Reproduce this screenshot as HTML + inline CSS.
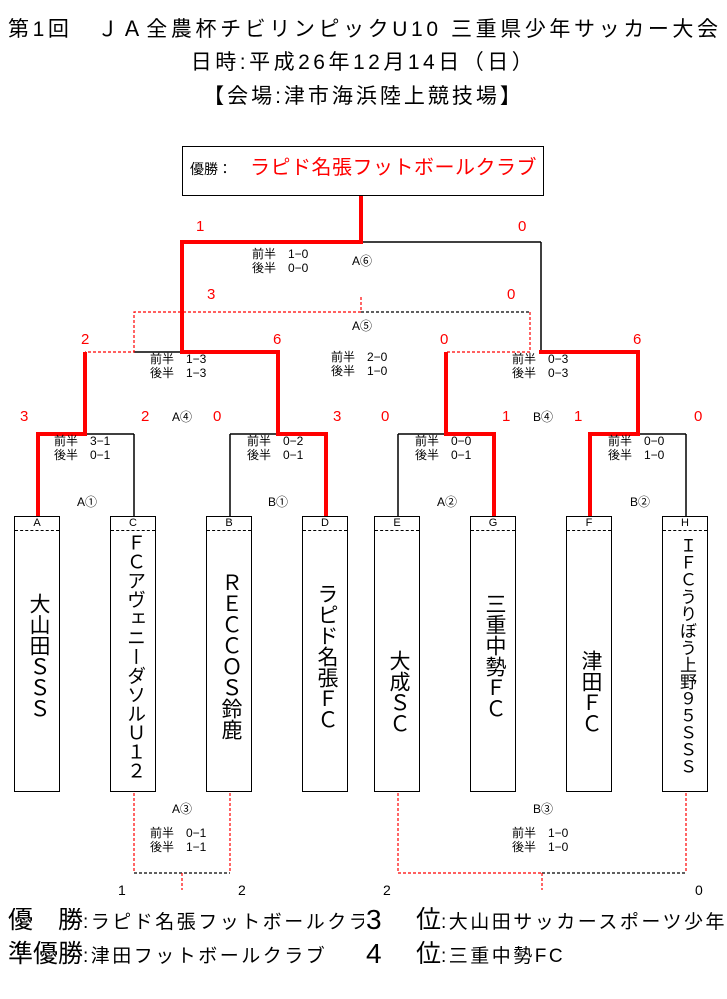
<!DOCTYPE html>
<html><head><meta charset="utf-8"><style>
body{margin:0;width:727px;height:999px;background:#fff;position:relative;overflow:hidden;font-family:"Liberation Sans","Noto Sans CJK JP",sans-serif;color:#000}
.t{position:absolute;white-space:nowrap;line-height:1}
.r{color:#f00}
.s{font-size:12px;line-height:14px}
.box{position:absolute;top:516px;width:46px;height:276px;border:1.5px solid #000;box-sizing:border-box}
.box .h{height:13px;border-bottom:1px dashed #000;font-size:11px;text-align:center;line-height:13px}
.box .v{writing-mode:vertical-rl;font-size:21px;margin:0 auto;line-height:46px;height:250px;display:flex;align-items:center;justify-content:center;width:46px;letter-spacing:0}
.sm{font-size:19px;letter-spacing:2.5px}
</style></head><body>
<div class="t" style="left:8px;top:19px;font-size:21px;letter-spacing:3.6px">第1回　ＪＡ全農杯チビリンピックU10 三重県少年サッカー大会</div>
<div class="t" style="left:0;width:727px;text-align:center;top:52px;font-size:21px;letter-spacing:3.5px">日時:平成26年12月14日（日）</div>
<div class="t" style="left:0;width:727px;text-align:center;top:86px;font-size:21px;letter-spacing:3px">【会場:津市海浜陸上競技場】</div>

<div style="position:absolute;left:182px;top:146px;width:362px;height:50px;border:1.5px solid #000;box-sizing:border-box"></div>
<div class="t" style="left:190px;top:162px;font-size:14px">優勝：</div>
<div class="t r" style="left:250px;top:158px;font-size:20px;letter-spacing:0.5px">ラピド名張フットボールクラブ</div>

<svg width="727" height="999" style="position:absolute;left:0;top:0">
<g fill="none" stroke-width="1.5">
<line x1="541" y1="242" x2="361" y2="242" stroke="#000"/>
<line x1="541" y1="242" x2="541" y2="352" stroke="#000"/>
<line x1="134" y1="352" x2="182" y2="352" stroke="#000"/>
<line x1="85" y1="434" x2="134" y2="434" stroke="#000"/>
<line x1="134" y1="434" x2="134" y2="516" stroke="#000"/>
<line x1="230" y1="434" x2="278" y2="434" stroke="#000"/>
<line x1="230" y1="434" x2="230" y2="516" stroke="#000"/>
<line x1="398" y1="434" x2="446" y2="434" stroke="#000"/>
<line x1="398" y1="434" x2="398" y2="516" stroke="#000"/>
<line x1="638" y1="434" x2="686" y2="434" stroke="#000"/>
<line x1="686" y1="434" x2="686" y2="516" stroke="#000"/>
</g>
<g fill="none" stroke="#f00" stroke-width="4">
<polyline points="361,196 361,242 182,242 182,352 278,352 278,434 326,434 326,516"/>
<polyline points="541,350 541,352 638,352 638,434 590,434 590,516"/>
<polyline points="85,352 85,434 38,434 38,516"/>
<polyline points="446,352 446,434 494,434 494,516"/>
</g>
<g fill="none" stroke-width="1.2" stroke-dasharray="3,2">
<polyline points="361,297 361,312 134,312 134,352 85,352" stroke="#f00"/>
<polyline points="361,312 530,312" stroke="#000"/>
<polyline points="530,312 530,352 446,352" stroke="#f00"/>
<polyline points="134,793 134,873" stroke="#f00"/>
<polyline points="230,793 230,873" stroke="#f00"/>
<polyline points="134,873 230,873" stroke="#000"/>
<polyline points="182,873 182,890" stroke="#f00"/>
<polyline points="398,793 398,873 542,873" stroke="#f00"/>
<polyline points="542,873 686,873" stroke="#000"/>
<polyline points="686,793 686,873" stroke="#f00"/>
<polyline points="542,873 542,890" stroke="#f00"/>
</g>
</svg>

<div class="t r" style="left:196px;top:219px;font-size:15px">1</div>
<div class="t r" style="left:518px;top:219px;font-size:15px">0</div>
<div class="t s" style="left:252px;top:247px">前半　1−0<br>後半　0−0</div>
<div class="t" style="left:352px;top:255px;font-size:12px">A⑥</div>
<div class="t r" style="left:207px;top:287px;font-size:15px">3</div>
<div class="t r" style="left:507px;top:287px;font-size:15px">0</div>
<div class="t" style="left:352px;top:320px;font-size:12px">A⑤</div>
<div class="t r" style="left:81px;top:332px;font-size:15px">2</div>
<div class="t r" style="left:273px;top:332px;font-size:15px">6</div>
<div class="t r" style="left:440px;top:332px;font-size:15px">0</div>
<div class="t r" style="left:633px;top:332px;font-size:15px">6</div>
<div class="t s" style="left:150px;top:352px">前半　1−3<br>後半　1−3</div>
<div class="t s" style="left:331px;top:350px">前半　2−0<br>後半　1−0</div>
<div class="t s" style="left:512px;top:352px">前半　0−3<br>後半　0−3</div>

<div class="t r" style="left:20px;top:409px;font-size:15px">3</div>
<div class="t r" style="left:141px;top:409px;font-size:15px">2</div>
<div class="t" style="left:172px;top:411px;font-size:12px">A④</div>
<div class="t r" style="left:213px;top:409px;font-size:15px">0</div>
<div class="t r" style="left:333px;top:409px;font-size:15px">3</div>
<div class="t r" style="left:381px;top:409px;font-size:15px">0</div>
<div class="t r" style="left:502px;top:409px;font-size:15px">1</div>
<div class="t" style="left:533px;top:411px;font-size:12px">B④</div>
<div class="t r" style="left:574px;top:409px;font-size:15px">1</div>
<div class="t r" style="left:694px;top:409px;font-size:15px">0</div>

<div class="t s" style="left:54px;top:434px">前半　3−1<br>後半　0−1</div>
<div class="t s" style="left:247px;top:434px">前半　0−2<br>後半　0−1</div>
<div class="t s" style="left:415px;top:434px">前半　0−0<br>後半　0−1</div>
<div class="t s" style="left:608px;top:434px">前半　0−0<br>後半　1−0</div>
<div class="t" style="left:77px;top:496px;font-size:12px">A①</div>
<div class="t" style="left:268px;top:496px;font-size:12px">B①</div>
<div class="t" style="left:437px;top:496px;font-size:12px">A②</div>
<div class="t" style="left:630px;top:496px;font-size:12px">B②</div>

<div class="box" style="left:14px"><div class="h">A</div><div class="v">大山田ＳＳＳ</div></div>
<div class="box" style="left:110px"><div class="h">C</div><div class="v" style="font-size:19px">ＦＣアヴェニーダソルＵ１２</div></div>
<div class="box" style="left:206px"><div class="h">B</div><div class="v">ＲＥＣＣＯＳ鈴鹿</div></div>
<div class="box" style="left:302px"><div class="h">D</div><div class="v">ラピド名張ＦＣ</div></div>
<div class="box" style="left:374px"><div class="h">E</div><div class="v" style="align-items:flex-start;padding-top:72px;box-sizing:border-box">大成ＳＣ</div></div>
<div class="box" style="left:470px"><div class="h">G</div><div class="v">三重中勢ＦＣ</div></div>
<div class="box" style="left:566px"><div class="h">F</div><div class="v" style="align-items:flex-start;padding-top:72px;box-sizing:border-box">津田ＦＣ</div></div>
<div class="box" style="left:662px"><div class="h">H</div><div class="v" style="font-size:17px">ＩＦＣうりぼう上野９５ＳＳＳ</div></div>

<div class="t" style="left:172px;top:803px;font-size:12px">A③</div>
<div class="t s" style="left:150px;top:826px">前半　0−1<br>後半　1−1</div>
<div class="t" style="left:533px;top:803px;font-size:12px">B③</div>
<div class="t s" style="left:512px;top:826px">前半　1−0<br>後半　1−0</div>
<div class="t" style="left:118px;top:883px;font-size:14px">1</div>
<div class="t" style="left:238px;top:883px;font-size:14px">2</div>
<div class="t" style="left:383px;top:883px;font-size:14px">2</div>
<div class="t" style="left:695px;top:883px;font-size:14px">0</div>

<div class="t" style="left:8px;top:908px;font-size:25px;width:356px;overflow:hidden">優　勝<span class="sm">:ラピド名張フットボールクラブ</span></div>
<div class="t" style="left:366px;top:906px;font-size:28px">3</div>
<div class="t" style="left:416px;top:908px;font-size:25px">位<span class="sm">:大山田サッカースポーツ少年</span></div>
<div class="t" style="left:8px;top:942px;font-size:25px">準優勝<span class="sm">:津田フットボールクラブ</span></div>
<div class="t" style="left:366px;top:940px;font-size:28px">4</div>
<div class="t" style="left:416px;top:942px;font-size:25px">位<span class="sm">:三重中勢FC</span></div>
</body></html>
